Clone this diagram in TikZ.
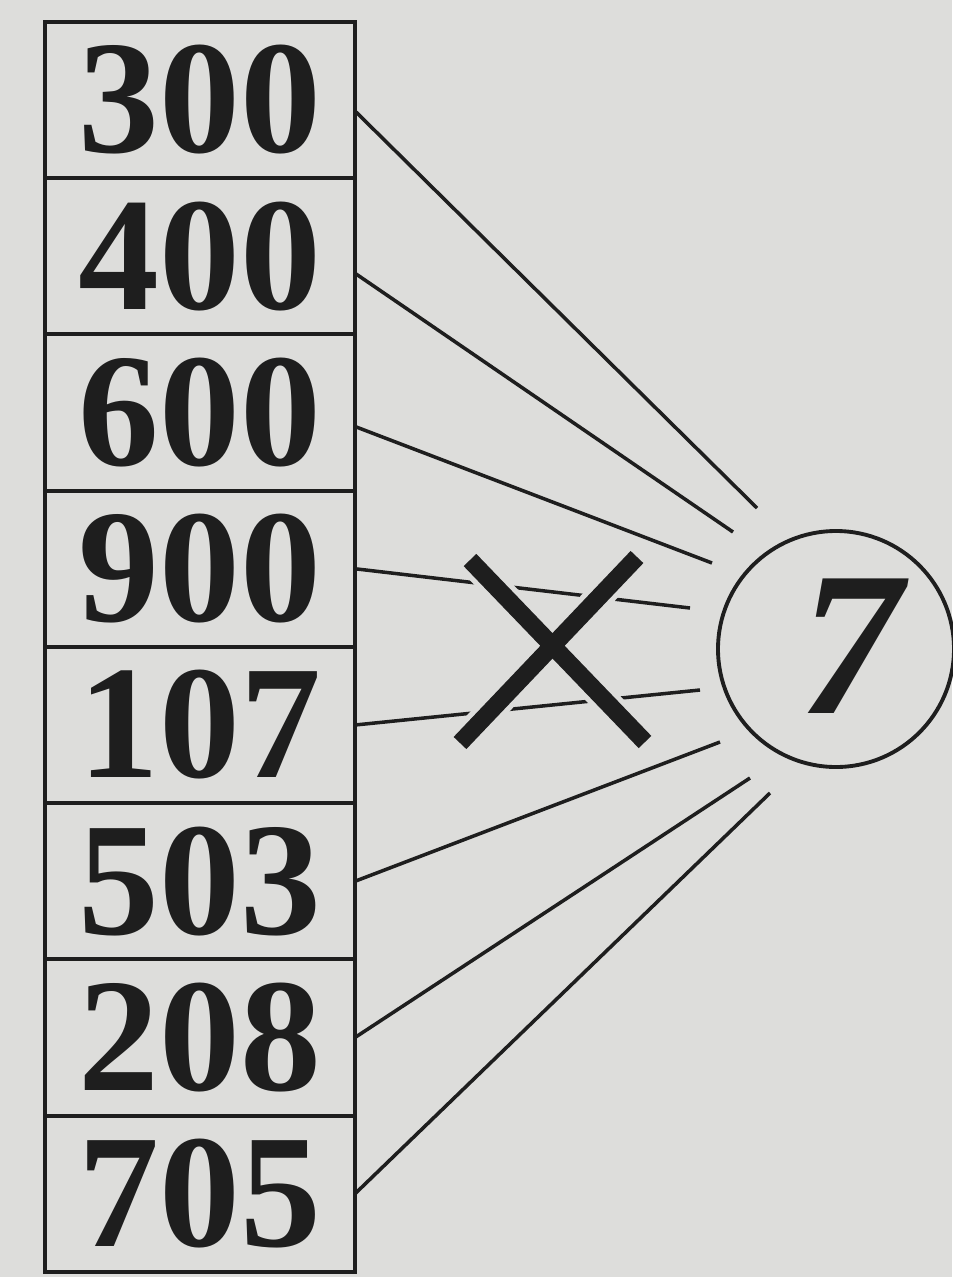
\documentclass[tikz,border=0pt]{standalone}
\usepackage{fontspec}
\setmainfont{Liberation Serif}
\usetikzlibrary{positioning}

\definecolor{paper}{RGB}{221,221,219}
\definecolor{ink}{RGB}{30,30,30}

\begin{document}
\begin{tikzpicture}[
    node distance=0pt,
    numbox/.style={
        draw=ink,
        line width=2.2pt,
        outer sep=0pt,
        inner sep=0pt,
        minimum width=6.2cm,
        minimum height=3.125cm,
        text=ink,
        font=\fontsize{92}{92}\selectfont\bfseries
    },
    ray/.style={draw=ink, line width=2pt},
    cross/.style={line width=10pt}
]

\fill[paper] (0,0) rectangle (19.04,-25.54);
\useasboundingbox (0,0) rectangle (19.04,-25.54);

\node[numbox] (b300) at (4.0,-2.0) {300};
\node[numbox, below=of b300] (b400) {400};
\node[numbox, below=of b400] (b600) {600};
\node[numbox, below=of b600] (b900) {900};
\node[numbox, below=of b900] (b107) {107};
\node[numbox, below=of b107] (b503) {503};
\node[numbox, below=of b503] (b208) {208};
\node[numbox, below=of b208] (b705) {705};

\node[draw=ink, circle, line width=2.2pt, minimum size=4.72cm,
      inner sep=0pt] (seven) at (16.72,-12.98) {};
\node[text=ink, inner sep=0pt,
      font=\fontsize{117}{117}\selectfont\bfseries\itshape]
    (digit) at ([xshift=0.3cm,yshift=0.05cm]seven.center) {7};

% free ends of the rays, short of the circle
\coordinate (e300) at (15.14,-10.16);
\coordinate (e400) at (14.66,-10.64);
\coordinate (e600) at (14.24,-11.26);
\coordinate (e900) at (13.80,-12.16);
\coordinate (e107) at (14.00,-13.80);
\coordinate (e503) at (14.40,-14.84);
\coordinate (e208) at (15.00,-15.56);
\coordinate (e705) at (15.40,-15.86);

\draw[ray] ([yshift=-0.22cm]b300.east) -- (e300);
\draw[ray] ([yshift=-0.34cm]b400.east) -- (e400);
\draw[ray] ([yshift=-0.28cm]b600.east) -- (e600);
\draw[ray] (b900.east) -- (e900);
\draw[ray] (b107.east) -- (e107);
\draw[ray] (b503.east) -- (e503);
\draw[ray] (b208.east) -- (e208);
\draw[ray] (b705.east) -- (e705);

% the cross over the two middle rays
\coordinate (xa1) at (9.40,-11.20);
\coordinate (xa2) at (12.90,-14.84);
\coordinate (xb1) at (12.74,-11.14);
\coordinate (xb2) at (9.20,-14.86);

\draw[cross, paper, line width=16pt] (xa1) -- (xa2) (xb1) -- (xb2);
\draw[cross, ink] (xa1) -- (xa2) (xb1) -- (xb2);

\end{tikzpicture}
\end{document}
